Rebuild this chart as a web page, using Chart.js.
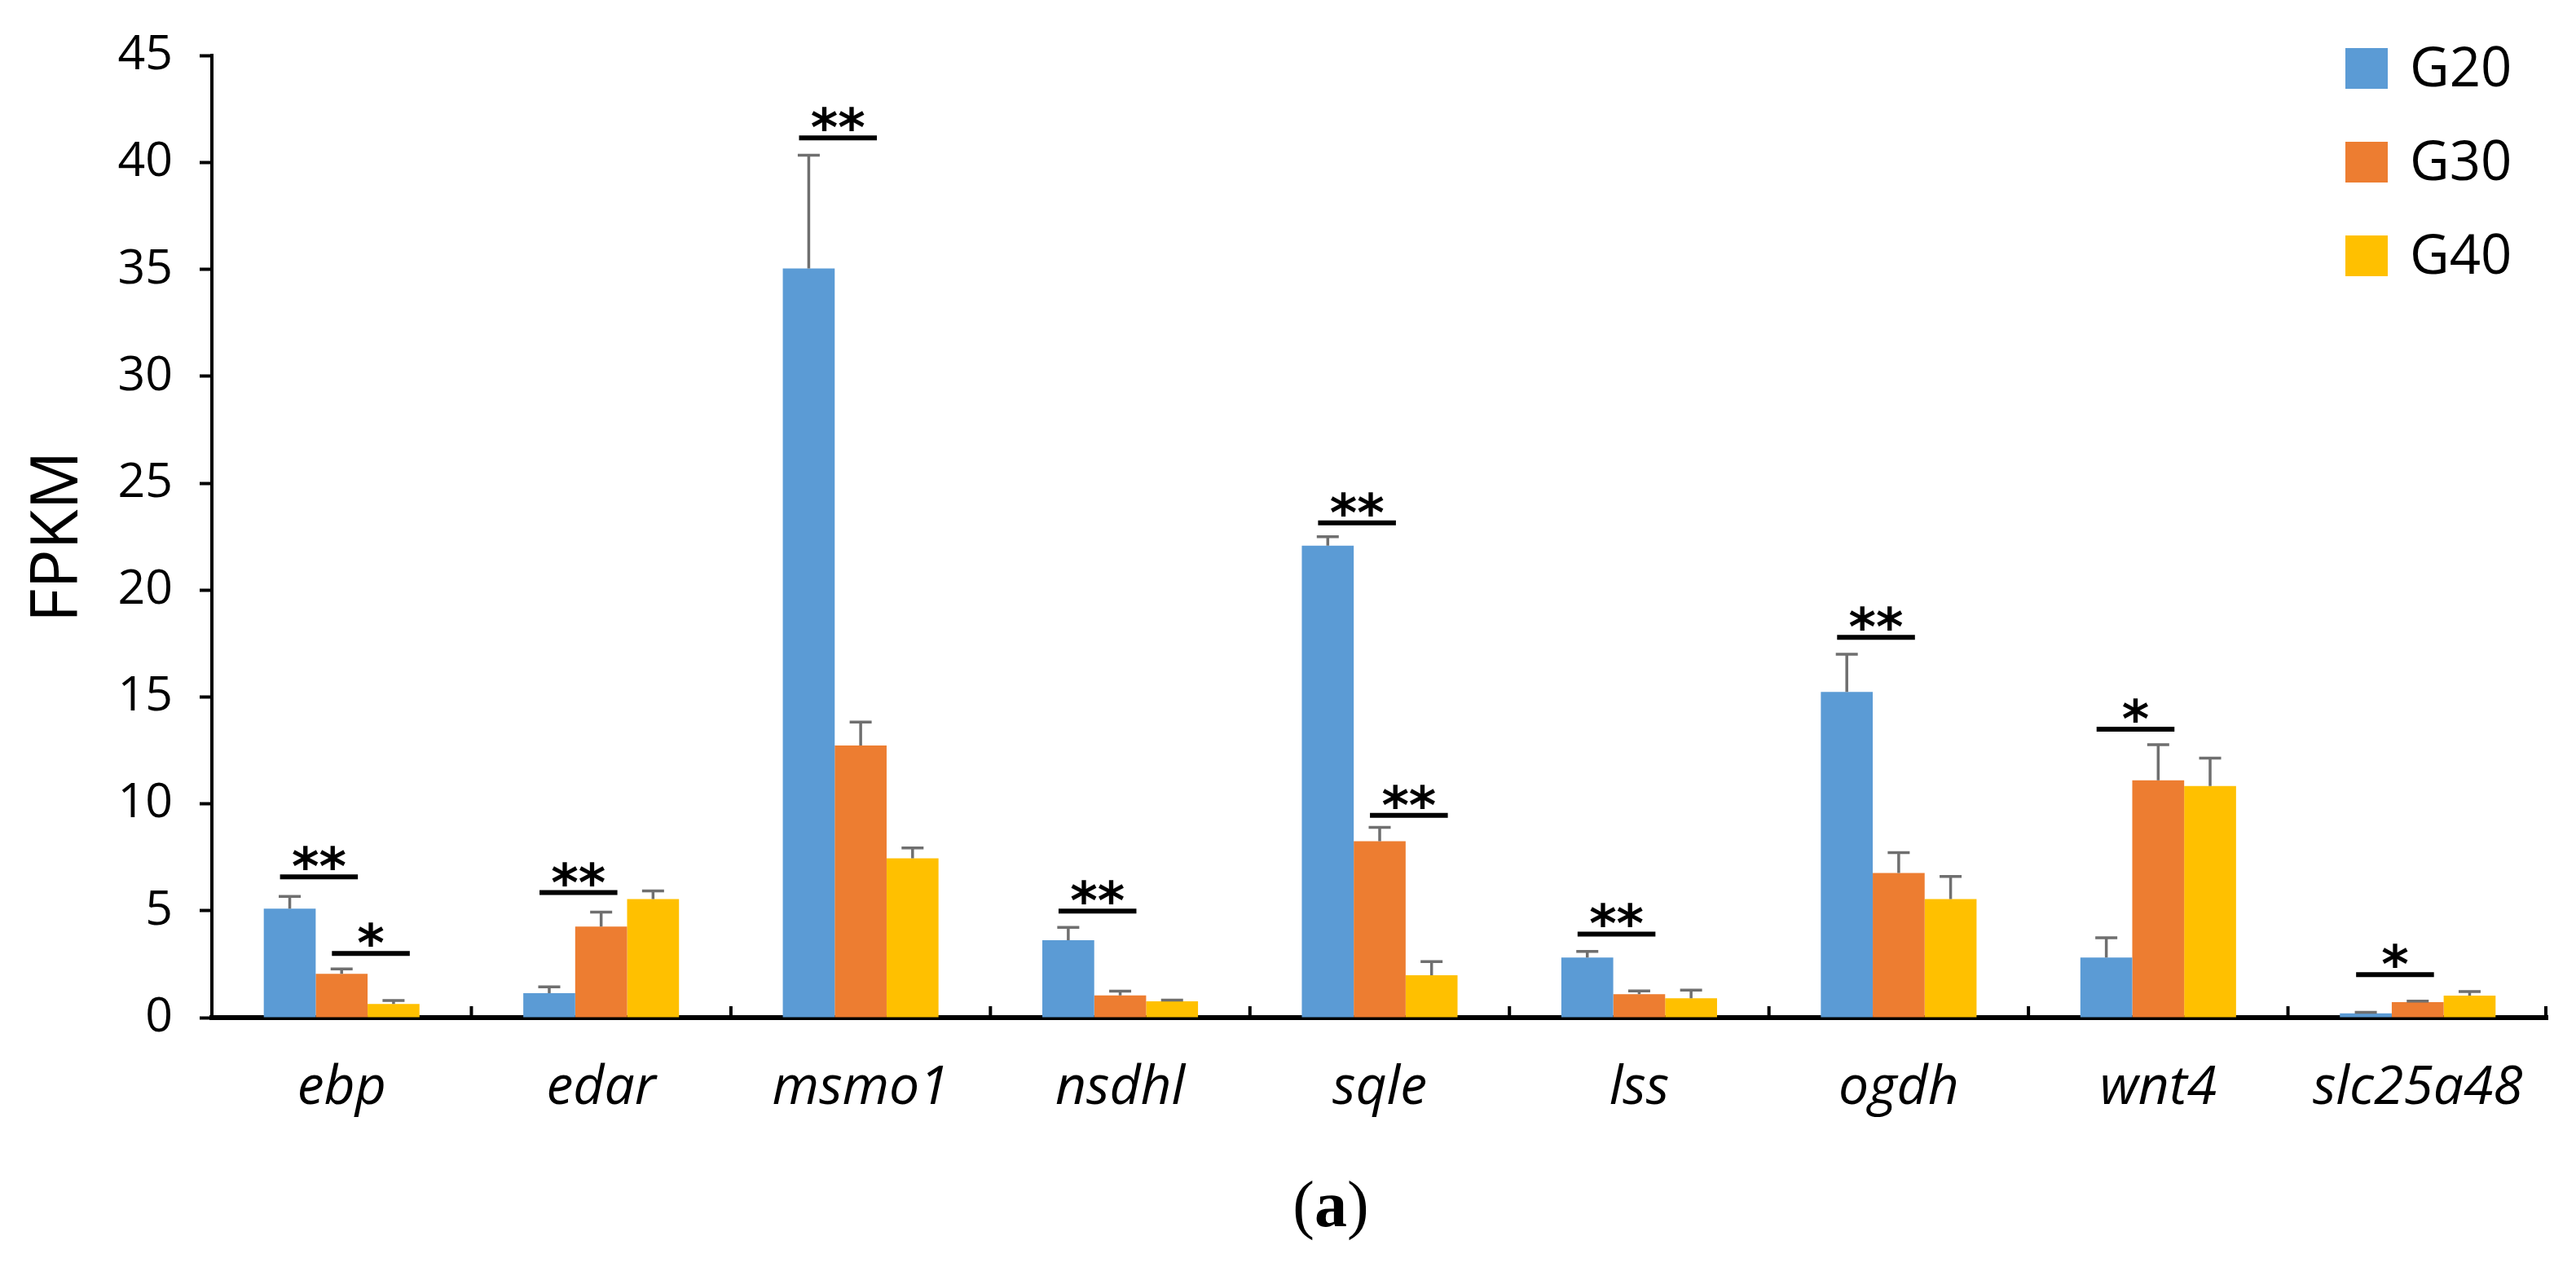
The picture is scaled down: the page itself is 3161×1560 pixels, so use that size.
<!DOCTYPE html>
<html>
<head>
<meta charset="utf-8">
<title>FPKM</title>
<script src="https://cdn.jsdelivr.net/npm/chart.js@4.4.1/dist/chart.umd.min.js"></script>
<style>
  html, body { margin: 0; padding: 0; background: #fff; }
  canvas { display: block; }
</style>
</head>
<body>
<canvas id="fpkmChart" width="3161" height="1560" style="width:3161px;height:1560px"></canvas>
<script>
// genes on the x axis
const genes = ['ebp', 'edar', 'msmo1', 'nsdhl', 'sqle', 'lss', 'ogdh', 'wnt4', 'slc25a48'];
const groups = ['G20', 'G30', 'G40'];

// mean FPKM per group
const g20 = [5.1, 1.14, 35.05, 3.62, 22.08, 2.81, 15.24, 2.81, 0.2];
const g30 = [2.05, 4.26, 12.73, 1.04, 8.25, 1.1, 6.77, 11.1, 0.72];
const g40 = [0.64, 5.55, 7.45, 0.76, 1.98, 0.91, 5.55, 10.83, 1.03];

// upper error bars
const g20Err = [0.57, 0.3, 5.3, 0.6, 0.42, 0.29, 1.76, 0.93, 0.05];
const g30Err = [0.23, 0.68, 1.1, 0.2, 0.65, 0.15, 0.95, 1.67, 0.05];
const g40Err = [0.16, 0.38, 0.49, 0.06, 0.64, 0.38, 1.05, 1.31, 0.19];

// significance marks: gene index, first group of the pair, height, label
const sigGene  = [0, 0, 1, 2, 3, 4, 4, 5, 6, 7, 8];
const sigPair  = [0, 1, 0, 0, 0, 0, 1, 0, 0, 0, 0];
const sigY     = [6.58, 3.0, 5.85, 41.16, 4.98, 23.15, 9.46, 3.91, 17.79, 13.49, 2.01];
const sigLabel = ['**', '*', '**', '**', '**', '**', '**', '**', '**', '*', '*'];

const yTicks = [0, 5, 10, 15, 20, 25, 30, 35, 40, 45];

const colors = ['#5B9BD5', '#ED7D31', '#FFC000'];
const errors = [g20Err, g30Err, g40Err];
const sans = "'Open Sans', sans-serif";

const extras = {
    id: 'extras',
    afterDatasetsDraw(chart) {
        const { ctx, scales: { x, y }, chartArea } = chart;
        ctx.save();

        // error bars (upper only)
        ctx.strokeStyle = '#6f6f6f';
        ctx.lineWidth = 3.5;
        chart.data.datasets.forEach((ds, di) => {
            chart.getDatasetMeta(di).data.forEach((bar, i) => {
                const y0 = y.getPixelForValue(ds.data[i]);
                const y1 = y.getPixelForValue(ds.data[i] + errors[di][i]);
                ctx.beginPath();
                ctx.moveTo(bar.x, y0);
                ctx.lineTo(bar.x, y1);
                ctx.moveTo(bar.x - 13.5, y1);
                ctx.lineTo(bar.x + 13.5, y1);
                ctx.stroke();
            });
        });

        // category separator ticks, pointing up from the axis
        const step = x.getPixelForValue(1) - x.getPixelForValue(0);
        ctx.strokeStyle = '#000';
        ctx.lineWidth = 4;
        genes.forEach((g, i) => {
            const px = Math.min(x.getPixelForValue(i) + step / 2, chartArea.right - 2);
            ctx.beginPath();
            ctx.moveTo(px, chartArea.bottom);
            ctx.lineTo(px, chartArea.bottom - 14);
            ctx.stroke();
        });

        // significance lines and stars
        ctx.fillStyle = '#000';
        ctx.textAlign = 'center';
        ctx.textBaseline = 'alphabetic';
        ctx.font = "bold 64px 'DejaVu Sans'";
        sigGene.forEach((gi, k) => {
            const a = chart.getDatasetMeta(sigPair[k]).data[gi];
            const b = chart.getDatasetMeta(sigPair[k] + 1).data[gi];
            const cx = (a.x + b.x) / 2 + 4;
            const half = a.width * 0.75;
            const py = y.getPixelForValue(sigY[k]);
            ctx.lineWidth = 6;
            ctx.beginPath();
            ctx.moveTo(cx - half, py);
            ctx.lineTo(cx + half, py);
            ctx.stroke();
            ctx.fillText(sigLabel[k], cx, py + 10);
        });

        // legend, top right
        ctx.textAlign = 'left';
        ctx.textBaseline = 'middle';
        ctx.font = "67px 'Open Sans'";
        groups.forEach((g, i) => {
            const cy = 84 + i * 115;
            ctx.fillStyle = colors[i];
            ctx.fillRect(2878, cy - 25, 52, 50);
            ctx.fillStyle = '#000';
            ctx.fillText(g, 2957, cy + 3);
        });

        // panel caption
        ctx.textBaseline = 'alphabetic';
        const capY = 1505;
        ctx.font = "80px 'Liberation Serif'";
        const wa = ctx.measureText('(').width;
        ctx.font = "bold 80px 'Liberation Serif'";
        const wb = ctx.measureText('a').width;
        const left = 1633 - (wa * 2 + wb) / 2;
        ctx.textAlign = 'left';
        ctx.font = "80px 'Liberation Serif'";
        ctx.fillText('(', left, capY);
        ctx.fillText(')', left + wa + wb, capY);
        ctx.font = "bold 80px 'Liberation Serif'";
        ctx.fillText('a', left + wa, capY);

        ctx.restore();
    }
};

const ctx = document.getElementById('fpkmChart').getContext('2d');
new Chart(ctx, {
    type: 'bar',
    data: {
        labels: genes,
        datasets: [
            { label: groups[0], data: g20, backgroundColor: colors[0] },
            { label: groups[1], data: g30, backgroundColor: colors[1] },
            { label: groups[2], data: g40, backgroundColor: colors[2] }
        ]
    },
    options: {
        responsive: false,
        devicePixelRatio: 1,
        animation: false,
        layout: { padding: { left: 0, right: 35, top: 65, bottom: 0 } },
        datasets: {
            bar: { barPercentage: 1.0, categoryPercentage: 0.6, borderWidth: 0 }
        },
        plugins: {
            legend: { display: false },
            tooltip: { enabled: false }
        },
        scales: {
            x: {
                grid: { display: false },
                border: { display: true, color: '#000', width: 6 },
                ticks: {
                    color: '#000',
                    padding: 40,
                    font: { family: sans, size: 66, style: 'italic' }
                },
                afterFit(scale) { scale.height = 311; }
            },
            y: {
                min: 0,
                max: 45,
                afterBuildTicks(scale) { scale.ticks = yTicks.map(v => ({ value: v })); },
                grid: {
                    display: true,
                    drawOnChartArea: false,
                    drawTicks: true,
                    tickLength: 15,
                    tickWidth: 4,
                    tickColor: '#000'
                },
                border: { display: true, color: '#000', width: 4 },
                ticks: {
                    color: '#000',
                    padding: 33,
                    font: { family: sans, size: 59 }
                },
                title: {
                    display: true,
                    text: 'FPKM',
                    color: '#000',
                    padding: { top: 24, bottom: 0 },
                    font: { family: sans, size: 80 }
                },
                afterFit(scale) { scale.width = 260; }
            }
        }
    },
    plugins: [extras]
});
</script>
</body>
</html>
